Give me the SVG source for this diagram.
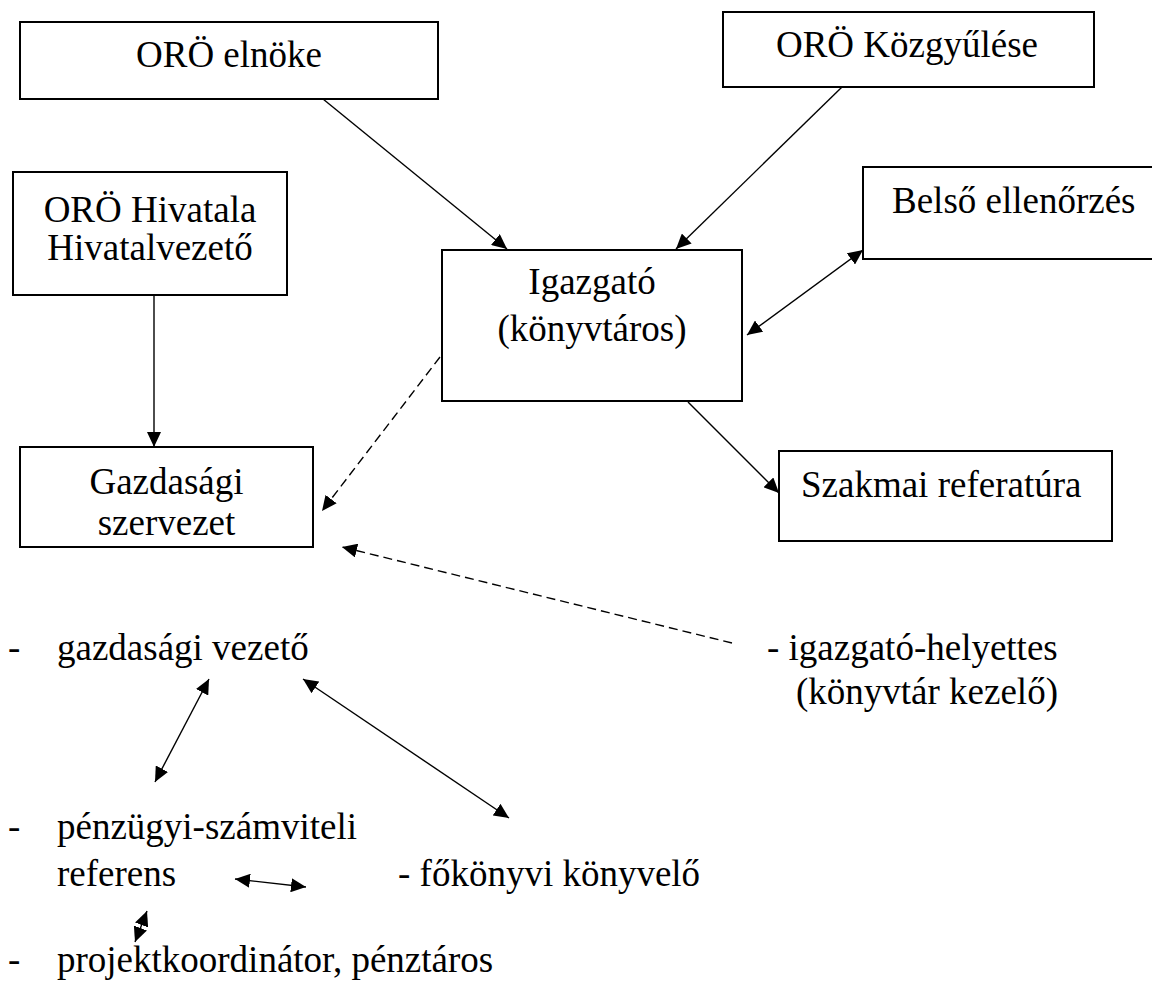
<svg xmlns="http://www.w3.org/2000/svg" width="1152" height="984" viewBox="0 0 1152 984">
<style>
  .box { fill: #fff; stroke: #000; stroke-width: 2; }
  .t { font-family: "Liberation Serif", "Times New Roman", serif; font-size: 37px; fill: #000; }
  .m { text-anchor: middle; }
  .c { fill: none; stroke: #000; stroke-width: 1.4; }
  .d { stroke-dasharray: 9 5; }
  .a { marker-end: url(#ah); }
  .aa { marker-start: url(#ah); marker-end: url(#ah); }
</style>
<defs>
  <marker id="ah" markerUnits="userSpaceOnUse" markerWidth="16" markerHeight="14" refX="15" refY="7" orient="auto-start-reverse" viewBox="0 0 16 14">
    <path d="M0,0 L15,7 L0,14 z" fill="#000"/>
  </marker>
</defs>
<rect width="1152" height="984" fill="#fff"/>

<g id="connectors">
  <line class="c a" x1="323" y1="99" x2="507" y2="249"/>
  <line class="c a" x1="842" y1="87" x2="676" y2="249"/>
  <line class="c aa" x1="747" y1="335" x2="863" y2="250"/>
  <line class="c a" x1="688" y1="402" x2="779" y2="493"/>
  <line class="c a" x1="154" y1="295" x2="154" y2="447"/>
  <line class="c d a" x1="440" y1="357" x2="322" y2="511"/>
  <line class="c d a" x1="732" y1="643" x2="342" y2="547"/>
  <line class="c aa" x1="155" y1="782" x2="209" y2="679"/>
  <line class="c aa" x1="509" y1="818" x2="303" y2="679"/>
  <line class="c aa" x1="235" y1="879" x2="306" y2="887"/>
  <line class="c aa" x1="147" y1="911" x2="135" y2="942"/>
</g>

<g id="oro-elnoke">
  <rect class="box" x="20" y="22" width="418" height="77"/>
  <text class="t m" x="229" y="67">ORÖ elnöke</text>
</g>
<g id="oro-kozgyules">
  <rect class="box" x="723" y="12" width="371" height="75"/>
  <text class="t m" x="907" y="57">ORÖ Közgyűlése</text>
</g>
<g id="oro-hivatala">
  <rect class="box" x="13" y="172" width="274" height="123"/>
  <text class="t m" x="150" y="222">ORÖ Hivatala</text>
  <text class="t m" x="150" y="260">Hivatalvezető</text>
</g>
<g id="belso-ellenorzes">
  <rect class="box" x="863" y="167" width="310" height="92"/>
  <text class="t" x="892" y="213">Belső ellenőrzés</text>
</g>
<g id="igazgato">
  <rect class="box" x="442" y="250" width="300" height="151"/>
  <text class="t m" x="592" y="294">Igazgató</text>
  <text class="t m" x="592" y="341">(könyvtáros)</text>
</g>
<g id="gazdasagi-szervezet">
  <rect class="box" x="20" y="447" width="293" height="100"/>
  <text class="t m" x="166.5" y="494">Gazdasági</text>
  <text class="t m" x="166.5" y="535">szervezet</text>
</g>
<g id="szakmai-referatura">
  <rect class="box" x="779" y="451" width="333" height="90"/>
  <text class="t" x="801" y="497">Szakmai referatúra</text>
</g>
<g id="gazdasagi-vezeto">
  <text class="t" x="8" y="660">-</text>
  <text class="t" x="57" y="660">gazdasági vezető</text>
</g>
<g id="igazgato-helyettes">
  <text class="t" x="767" y="660">- igazgató-helyettes</text>
  <text class="t" x="796" y="704">(könyvtár kezelő)</text>
</g>
<g id="penzugyi-referens">
  <text class="t" x="8" y="839">-</text>
  <text class="t" x="57" y="839">pénzügyi-számviteli</text>
  <text class="t" x="57" y="886">referens</text>
</g>
<g id="fokonyvi-konyvelo">
  <text class="t" x="398" y="886">- főkönyvi könyvelő</text>
</g>
<g id="projektkoordinator">
  <text class="t" x="8" y="972">-</text>
  <text class="t" x="57" y="972">projektkoordinátor, pénztáros</text>
</g>
</svg>
